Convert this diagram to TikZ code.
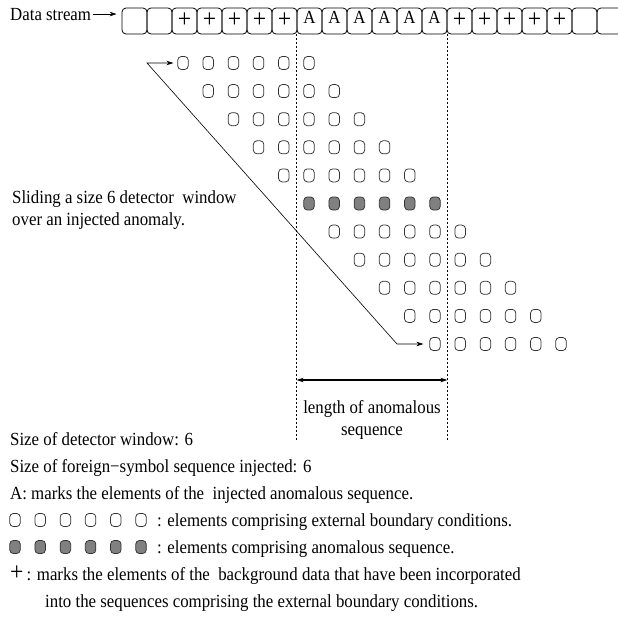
\documentclass[tikz,border=0pt]{standalone}
\usepackage{fontspec}
\setmainfont{Liberation Serif}[FakeStretch=0.91]
\usetikzlibrary{arrows.meta,calc}
\newcommand\bigplus{{\fontsize{26}{26}\selectfont +}}
\begin{document}
\begin{tikzpicture}[x=1pt,y=-1pt,
  txt/.style={anchor=base west,inner sep=0pt,font=\fontsize{18.5}{22}\selectfont},
  ctxt/.style={anchor=base,inner sep=0pt,font=\fontsize{18.5}{22}\selectfont},
  sbox/.style={draw,rounded corners=4pt,minimum width=25pt,minimum height=26pt,inner sep=0pt,line width=0.8pt},
  elem/.style={draw=black!80,rounded corners=3.6pt,minimum width=10.5pt,minimum height=13pt,inner sep=0pt,line width=0.75pt},
  anom/.style={elem,fill=black!50},
  dashline/.style={dash pattern=on 2pt off 2pt,line width=0.6pt},
  arr/.style={-{Stealth[length=7pt,width=4.5pt]},line width=0.6pt},
  dblarr/.style={{Stealth[length=7pt,width=4.5pt]}-{Stealth[length=7pt,width=4.5pt]},line width=0.6pt},
]
\useasboundingbox (0,0) rectangle (618,619);

% data stream
\node[txt] (ds) at (10,20) {Data stream};
\foreach \k in {1,...,20}
  \node[sbox] (b\k) at ({122+25*(\k-1)+12.5},21) {};
\foreach \k in {3,...,7,14,15,16,17,18}
  \node[ctxt] (t\k) at ($(b\k.center)+(0,6.5)$) {\bigplus};
\foreach \k in {8,...,13}
  \node[ctxt] (t\k) at ($(b\k.center)+(0,2)$) {A};
\draw[arr,shorten <=2pt,shorten >=5pt] (ds.east) -- (ds.east -| b1.west);

% dashed boundary lines
\coordinate (dend) at (0,442);
\draw[dashline] (b8.south west) -- (b8.south west |- dend);
\draw[dashline] (b13.south east) -- (b13.south east |- dend);

% sliding windows
\foreach \r in {0,...,10}
  \foreach \i in {0,...,5}{
    \ifnum\r=5
      \node[anom] (c\r-\i) at ({183+25.2*\r+25.2*\i},{63+28.1*\r}) {};
    \else
      \node[elem] (c\r-\i) at ({183+25.2*\r+25.2*\i},{63+28.1*\r}) {};
    \fi
  }

\coordinate (p1) at (147,63);
\coordinate (p2) at (397,344);
\draw[dblarr,shorten <=4pt,shorten >=6pt] (c0-0.west) -- (p1) -- (p2) -- (c10-0.west);

% length arrow
\coordinate (lrow) at (0,380);
\draw[dblarr,line width=1.1pt] (b8.south west |- lrow) -- (b13.south east |- lrow);
\node[ctxt] (len1) at (372,413) {length of anomalous};
\node[ctxt] (len2) at (372,435) {sequence};

% left caption
\node[txt] (sl1) at (12,203) {Sliding a size 6 detector\ \ window};
\node[txt] (sl2) at (12,225) {over an injected anomaly.};

% legend
\node[txt] (lg1) at (10,445) {Size of detector window: 6};
\node[txt] (lg2) at (10,472) {Size of foreign\char"2212 symbol sequence injected: 6};
\node[txt] (lg3) at (10,499) {A: marks the elements of the\ \ injected anomalous sequence.};
\foreach \i in {0,...,5}{
  \node[elem] (le\i) at ({15+25.2*\i},520) {};
  \node[anom] (la\i) at ({15+25.2*\i},547) {};
}
\node[txt] (lg4) at (157,526) {: elements comprising external boundary conditions.};
\node[txt] (lg5) at (157,553) {: elements comprising anomalous sequence.};
\node[txt] (lg6) at (10,580) {\bigplus\,: marks the elements of the\ \ background data that have been incorporated};
\node[txt] (lg7) at (45,607) {into the sequences comprising the external boundary conditions.};
\end{tikzpicture}
\end{document}
